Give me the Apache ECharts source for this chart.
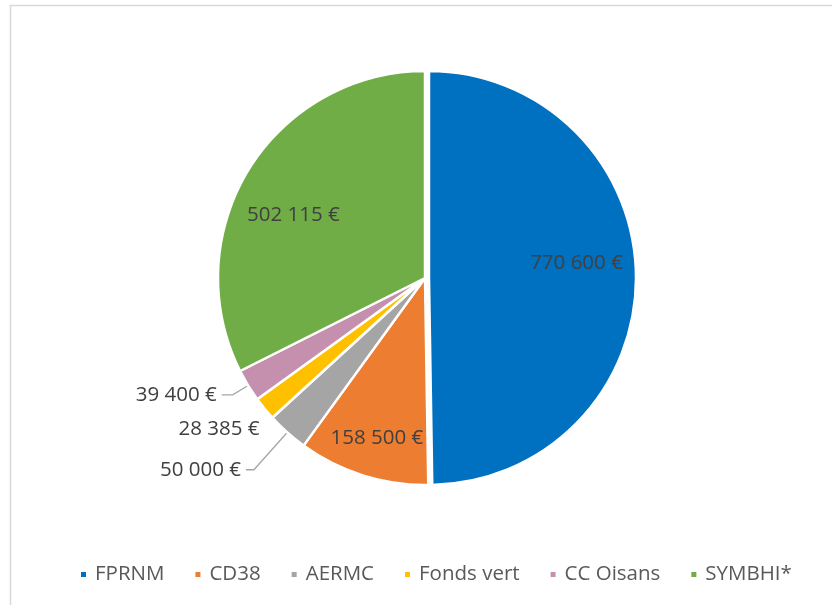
<!DOCTYPE html>
<html>
<head>
<meta charset="utf-8">
<script src="https://cdn.jsdelivr.net/npm/echarts@6/dist/echarts.min.js"></script>
<style>
html,body{margin:0;padding:0;background:#fff;}
#c{width:832px;height:605px;}
</style>
</head>
<body>
<div id="c"></div>
<script>
const categories = ['FPRNM', 'CD38', 'AERMC', 'Fonds vert', 'CC Oisans', 'SYMBHI*'];
const values = [770600, 158500, 50000, 28385, 39400, 502115];
const colors = ['#0070C0', '#ED7D31', '#A5A5A5', '#FFC000', '#C590AE', '#70AD47'];

function fmt(v) {
  return String(v).replace(/\B(?=(\d{3})+(?!\d))/g, ' ') + ' €';
}

const FONT = '"Open Sans", sans-serif';
const insideIdx = [0, 1, 5];

const labelShift = {
  0: {dx: 41, dy: -14},
  1: {dx: -16, dy: 59},
  5: {dx: -41, dy: -7},
  3: {dx: 0, dy: 20}
};

const outsideLine = {
  2: {length: 50, length2: 8, show: true},
  3: {length: 0, length2: 0, show: false},
  4: {length: 18, length2: 11, show: true}
};

const data = categories.map((name, i) => {
  const item = {name: name, value: values[i], itemStyle: {color: colors[i]}};
  if (insideIdx.indexOf(i) >= 0) {
    item.label = {position: 'inside'};
    item.labelLine = {show: false};
  } else {
    item.label = {position: 'outside'};
    item.labelLine = {
      show: outsideLine[i].show, length: outsideLine[i].length, length2: outsideLine[i].length2,
      lineStyle: {color: '#A6A6A6', width: 1.3}
    };
  }
  if (i === 0) item.selected = true;
  return item;
});

const chart = echarts.init(document.getElementById('c'), null, {renderer: 'canvas'});
chart.setOption({
  animation: false,
  backgroundColor: '#fff',
  graphic: [{
    type: 'rect', silent: true,
    shape: {x: 10.5, y: 5.5, width: 900, height: 800},
    style: {fill: 'none', stroke: '#D9D9D9', lineWidth: 1.5}
  }],
  legend: {
    data: categories,
    left: 74,
    top: 559,
    itemWidth: 7,
    itemHeight: 7,
    itemGap: 29,
    icon: 'rect',
    textStyle: {color: '#595959', fontSize: 20.5, fontFamily: FONT, padding: [0, 0, 0, 3]},
    selectedMode: false
  },
  series: [{
    type: 'pie',
    center: [425, 278],
    radius: 207,
    startAngle: 90,
    clockwise: true,
    selectedMode: 'single',
    selectedOffset: 4,
    avoidLabelOverlap: false,
    itemStyle: {borderColor: '#fff', borderWidth: 2.5},
    emphasis: {disabled: true},
    label: {
      show: true,
      formatter: p => fmt(p.value),
      color: '#404040',
      fontSize: 20.5,
      fontFamily: FONT,
      distanceToLabelLine: 5
    },
    labelLayout: function (params) {
      const s = labelShift[params.dataIndex];
      return s ? {dx: s.dx, dy: s.dy, hideOverlap: false} : {hideOverlap: false};
    },
    data: data
  }]
});
</script>
</body>
</html>
